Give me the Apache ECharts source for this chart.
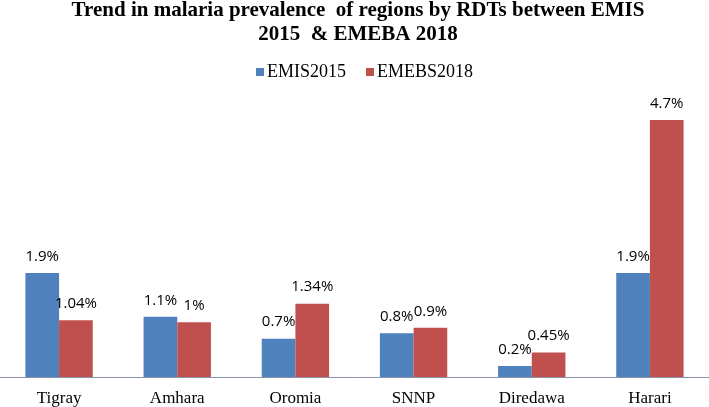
<!DOCTYPE html>
<html><head><meta charset="utf-8">
<script src="https://cdn.jsdelivr.net/npm/echarts@6/dist/echarts.min.js"></script>
<style>html,body{margin:0;padding:0;background:#fff}#c{width:709px;height:407px}</style>
</head><body><div id="c"></div>
<script>
const categories = ['Tigray','Amhara','Oromia','SNNP','Diredawa','Harari'];
const emis2015 = [1.9, 1.1, 0.7, 0.8, 0.2, 1.9];
const emebs2018 = [1.04, 1, 1.34, 0.9, 0.45, 4.7];
const seriesNames = ['EMIS2015','EMEBS2018'];
const titleText = 'Trend in malaria prevalence  of regions by RDTs between EMIS\n2015  & EMEBA 2018';

const chart = echarts.init(document.getElementById('c'));
const lbl = {show:true, position:'top', distance:9, color:'#000', fontFamily:'Open Sans', fontSize:15, formatter: p => p.value + '%'};
chart.setOption({
  animation:false,
  title:{text:titleText, left:353, textAlign:'center', top:-6,
    textStyle:{fontFamily:'Liberation Serif', fontWeight:'bold', fontSize:21, lineHeight:24, color:'#000'}},
  legend:{data:seriesNames, top:58, left:251, itemWidth:8, itemHeight:8, itemGap:20, icon:'rect',
    textStyle:{fontFamily:'Liberation Serif', fontSize:18, color:'#000', padding:[0,0,0,-2]}},
  grid:{left:0, right:0, top:120, bottom:30, containLabel:false},
  xAxis:{type:'category', data:categories, axisTick:{show:false},
    axisLine:{lineStyle:{color:'#8A93AD', width:1}},
    axisLabel:{margin:13, fontFamily:'Liberation Serif', fontSize:17, color:'#000'}},
  yAxis:{type:'value', min:0, max:4.7, show:false, splitLine:{show:false}},
  series:[
    {name:seriesNames[0], type:'bar', data:emis2015, barGap:'0%', barCategoryGap:'43%', itemStyle:{color:'#4F81BD'}, label:lbl},
    {name:seriesNames[1], type:'bar', data:emebs2018, itemStyle:{color:'#C0504D'}, label:lbl}
  ]
});
</script></body></html>
